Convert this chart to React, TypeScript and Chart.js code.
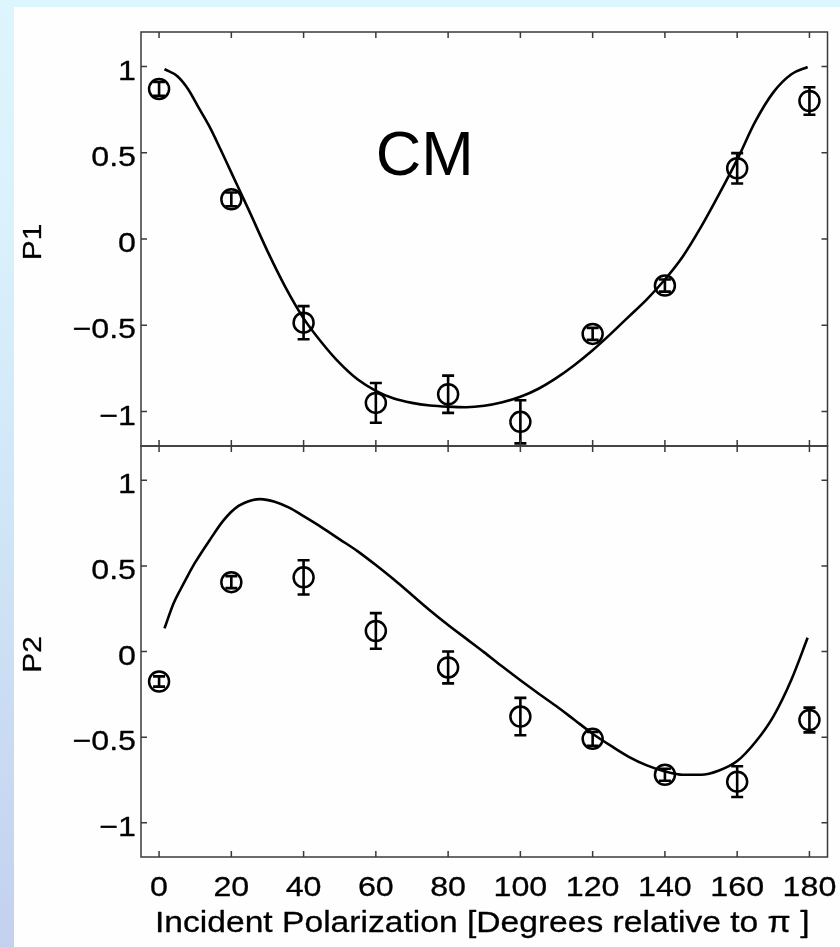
import React, { useEffect, useRef } from 'react';
import { Chart, registerables } from 'chart.js';

Chart.register(...registerables);

// Incident polarization angles (degrees) of the measurements
const ANGLES = [0, 20, 40, 60, 80, 100, 120, 140, 160, 180];

// Measured P1 / P2 with their uncertainties
const P1_MEASURED = [0.87, 0.23, -0.485, -0.95, -0.9, -1.06, -0.55, -0.27, 0.41, 0.8];
const P1_ERROR = [0.04, 0.04, 0.096, 0.115, 0.108, 0.125, 0.035, 0.035, 0.088, 0.08];
const P2_MEASURED = [-0.175, 0.405, 0.433, 0.12, -0.093, -0.38, -0.51, -0.72, -0.76, -0.4];
const P2_ERROR = [0.03, 0.035, 0.1, 0.104, 0.093, 0.109, 0.04, 0.035, 0.09, 0.072];

// Model curves
const P1_FIT_ANGLE = [1.5, 5, 8, 11, 14, 17, 20, 25, 30, 35, 40, 45, 50, 55, 60, 65, 70, 75, 80, 85, 90, 95, 100, 105, 110, 115, 120, 125, 130, 135, 140, 145, 150, 155, 160, 165, 170, 175, 179.5];
const P1_FIT = [0.985, 0.945, 0.87, 0.76, 0.65, 0.52, 0.385, 0.16, -0.07, -0.28, -0.46, -0.6, -0.72, -0.815, -0.88, -0.925, -0.95, -0.965, -0.972, -0.975, -0.967, -0.947, -0.915, -0.868, -0.805, -0.73, -0.645, -0.55, -0.45, -0.35, -0.235, -0.1, 0.07, 0.26, 0.46, 0.68, 0.85, 0.955, 0.997];
const P2_FIT_ANGLE = [1.5, 4, 6, 8, 10, 14, 18, 22, 26, 28, 32, 36, 40, 45, 50, 55, 60, 65, 70, 75, 80, 85, 90, 95, 100, 105, 110, 115, 120, 125, 130, 135, 140, 145, 150, 155, 160, 165, 170, 175, 179.5];
const P2_FIT = [0.135, 0.28, 0.365, 0.445, 0.52, 0.65, 0.77, 0.85, 0.885, 0.89, 0.875, 0.84, 0.79, 0.725, 0.655, 0.585, 0.505, 0.42, 0.33, 0.24, 0.155, 0.075, -0.005, -0.088, -0.168, -0.245, -0.32, -0.4, -0.48, -0.55, -0.615, -0.665, -0.7, -0.72, -0.72, -0.695, -0.64, -0.53, -0.38, -0.165, 0.08];

const X_TICKS = [0, 20, 40, 60, 80, 100, 120, 140, 160, 180];
const Y_TICKS = [-1, -0.5, 0, 0.5, 1];
const X_MIN = -5;
const X_MAX = 185;
const Y_MIN = -1.2;
const Y_MAX = 1.2;

const X_TITLE = 'Incident Polarization [Degrees relative to \u03c0 ]';
const NOTE = 'CM';
const NOTE_AT = { x: 60, y: 0.37 };

const FONT = "'Liberation Sans', Arial, Helvetica, sans-serif";
const INK = '#000000';
const FRAME = '#3a3a3a';

function fmtTick(v: number): string {
  const s = String(Math.abs(v));
  return v < 0 ? '\u2212' + s : s;
}

function drawText(
  ctx: CanvasRenderingContext2D,
  text: string,
  x: number,
  y: number,
  size: number,
  align: CanvasTextAlign,
  sx = 1,
  rot = 0,
  weight = 0
) {
  ctx.save();
  ctx.translate(x, y);
  if (rot) ctx.rotate(rot);
  ctx.scale(sx, 1);
  ctx.font = `${size}px ${FONT}`;
  ctx.textAlign = align;
  ctx.textBaseline = 'alphabetic';
  ctx.fillStyle = INK;
  ctx.fillText(text, 0, 0);
  if (weight > 0) {
    ctx.strokeStyle = INK;
    ctx.lineWidth = weight;
    ctx.lineJoin = 'round';
    ctx.strokeText(text, 0, 0);
  }
  ctx.restore();
}

interface DecorCfg {
  measured: number[];
  errors: number[];
  yTitle: string;
  xAxis: boolean;
  note?: boolean;
}

function makeDecor(cfg: DecorCfg) {
  return {
    id: 'panelDecor',
    afterDatasetsDraw(chart: any) {
      const { ctx } = chart;
      const x = chart.scales.x;
      const y = chart.scales.y;
      ctx.save();
      ctx.strokeStyle = INK;
      ctx.lineWidth = 2.6;
      ctx.beginPath();
      ANGLES.forEach((a, i) => {
        const px = x.getPixelForValue(a);
        const top = y.getPixelForValue(cfg.measured[i] + cfg.errors[i]);
        const bot = y.getPixelForValue(cfg.measured[i] - cfg.errors[i]);
        ctx.moveTo(px, top);
        ctx.lineTo(px, bot);
        ctx.moveTo(px - 6, top);
        ctx.lineTo(px + 6, top);
        ctx.moveTo(px - 6, bot);
        ctx.lineTo(px + 6, bot);
      });
      ctx.stroke();
      ctx.restore();
    },
    afterDraw(chart: any) {
      const { ctx, chartArea: a } = chart;
      const x = chart.scales.x;
      const y = chart.scales.y;
      ctx.save();
      ctx.strokeStyle = FRAME;
      ctx.lineWidth = 1.5;
      ctx.strokeRect(a.left, a.top, a.right - a.left, a.bottom - a.top);
      ctx.beginPath();
      X_TICKS.forEach((t) => {
        const px = x.getPixelForValue(t);
        ctx.moveTo(px, a.top);
        ctx.lineTo(px, a.top + 6);
        ctx.moveTo(px, a.bottom);
        ctx.lineTo(px, a.bottom - 6);
      });
      Y_TICKS.forEach((t) => {
        const py = y.getPixelForValue(t);
        ctx.moveTo(a.left, py);
        ctx.lineTo(a.left + 6, py);
        ctx.moveTo(a.right, py);
        ctx.lineTo(a.right - 6, py);
      });
      ctx.stroke();
      ctx.restore();

      Y_TICKS.forEach((t) => {
        drawText(ctx, fmtTick(t), a.left - 5, y.getPixelForValue(t) + 13, 28, 'right', 1.15, 0, 0.3);
      });
      drawText(ctx, cfg.yTitle, 41, (a.top + a.bottom) / 2 + 3, 26, 'center', 1.15, -Math.PI / 2, 0.3);

      if (cfg.xAxis) {
        X_TICKS.forEach((t) => {
          drawText(ctx, String(t), x.getPixelForValue(t), a.bottom + 39, 28, 'center', 1.15, 0, 0.3);
        });
        drawText(ctx, X_TITLE, (a.left + a.right) / 2 - 2, a.bottom + 74.5, 30, 'center', 1.12, 0, 0.3);
      }
      if (cfg.note) {
        drawText(ctx, NOTE, x.getPixelForValue(NOTE_AT.x), y.getPixelForValue(NOTE_AT.y), 63, 'left');
      }
    },
  };
}

function toPoints(xs: number[], ys: number[]) {
  return xs.map((v, i) => ({ x: v, y: ys[i] }));
}

function buildChart(
  canvas: HTMLCanvasElement,
  fitX: number[],
  fitY: number[],
  measured: number[],
  errors: number[],
  yTitle: string,
  padding: { left: number; top: number; right: number; bottom: number },
  xAxis: boolean,
  note: boolean
) {
  return new Chart(canvas, {
    type: 'scatter',
    data: {
      datasets: [
        {
          data: toPoints(fitX, fitY),
          showLine: true,
          borderColor: INK,
          borderWidth: 2.6,
          pointRadius: 0,
          fill: false,
          cubicInterpolationMode: 'monotone',
        } as any,
        {
          data: toPoints(ANGLES, measured),
          showLine: false,
          pointStyle: 'circle',
          pointRadius: 10,
          pointBorderWidth: 2.5,
          pointBorderColor: INK,
          pointBackgroundColor: 'rgba(0,0,0,0)',
        } as any,
      ],
    },
    options: {
      animation: false,
      responsive: false,
      devicePixelRatio: 1,
      events: [],
      layout: { padding },
      plugins: { legend: { display: false }, tooltip: { enabled: false } },
      scales: {
        x: { type: 'linear', min: X_MIN, max: X_MAX, display: false },
        y: { type: 'linear', min: Y_MIN, max: Y_MAX, display: false },
      },
    } as any,
    plugins: [makeDecor({ measured, errors, yTitle, xAxis, note })],
  });
}

export default function App() {
  const topRef = useRef<HTMLCanvasElement | null>(null);
  const bottomRef = useRef<HTMLCanvasElement | null>(null);

  useEffect(() => {
    if (!topRef.current || !bottomRef.current) return;
    const top = buildChart(
      topRef.current,
      P1_FIT_ANGLE,
      P1_FIT,
      P1_MEASURED,
      P1_ERROR,
      'P1',
      { left: 141, top: 32, right: 10, bottom: 501 },
      false,
      true
    );
    const bottom = buildChart(
      bottomRef.current,
      P2_FIT_ANGLE,
      P2_FIT,
      P2_MEASURED,
      P2_ERROR,
      'P2',
      { left: 141, top: 446, right: 10, bottom: 90 },
      true,
      false
    );
    return () => {
      top.destroy();
      bottom.destroy();
    };
  }, []);

  const canvasStyle: React.CSSProperties = { position: 'absolute', left: 0, top: 0, display: 'block' };

  return (
    <div
      style={{
        position: 'fixed',
        left: 0,
        top: 0,
        width: 840,
        height: 947,
        overflow: 'hidden',
        background: 'linear-gradient(180deg, #ddf5fc 0%, #d9f1fb 25%, #d0e5f7 55%, #c3d1ef 100%)',
      }}
    >
      <div style={{ position: 'absolute', left: 14, top: 7, right: 0, bottom: 0, background: '#fefefe' }} />
      <canvas ref={topRef} width={840} height={947} style={canvasStyle} />
      <canvas ref={bottomRef} width={840} height={947} style={canvasStyle} />
    </div>
  );
}
